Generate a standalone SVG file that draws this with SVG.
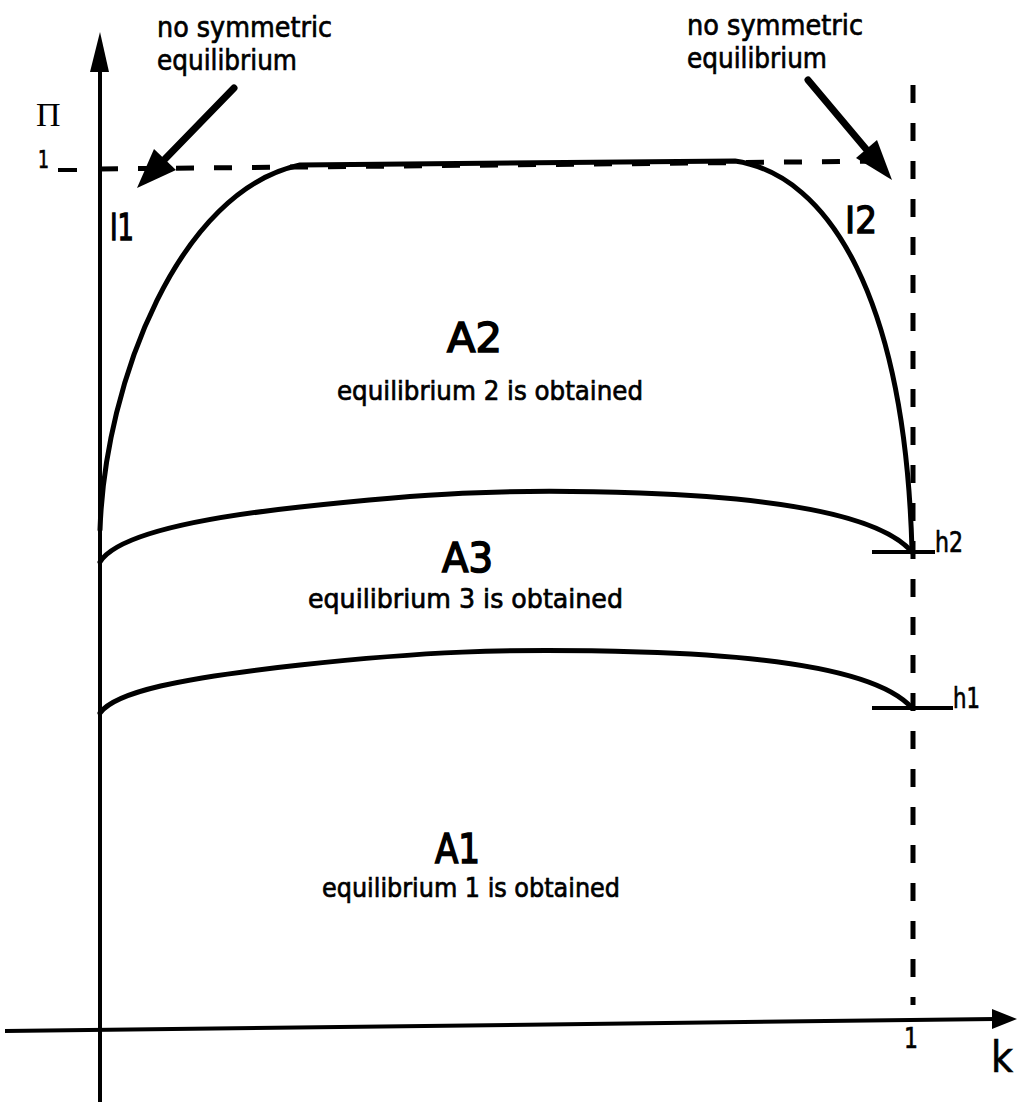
<svg xmlns="http://www.w3.org/2000/svg" width="1019" height="1107" viewBox="0 0 1019 1107">
<style>
.t{font-family:"DejaVu Sans","Liberation Sans",sans-serif;fill:#000;stroke:#000;stroke-width:0.7}
.big{font-size:40px;stroke-width:1.6}
.eq{font-size:26px}
.note{font-size:28px}
.crv{fill:none;stroke:#000;stroke-width:5;stroke-linecap:round}
.ax{fill:none;stroke:#000;stroke-width:4}
.dash{fill:none;stroke:#000;stroke-width:5;stroke-dasharray:18 20}
.call{fill:none;stroke:#000;stroke-width:7;stroke-linecap:round}
</style>
<rect width="1019" height="1107" fill="#fff"/>
<g id="axes">
<line class="ax" x1="100" y1="1102" x2="100" y2="60"/>
<polygon points="100,32 90,72 109,72" fill="#000"/>
<line class="ax" x1="5" y1="1031" x2="995" y2="1019"/>
<polygon points="1017,1019 992,1009 992,1029" fill="#000"/>
<line class="ax" x1="58" y1="170" x2="77" y2="170"/>
<text x="36" y="126" style="font-family:'Liberation Serif',serif;font-size:34px;fill:#000">Π</text>
<text class="t" x="38" y="168" style="font-size:24px" textLength="11" lengthAdjust="spacingAndGlyphs">1</text>
<text class="t" x="904" y="1048" style="font-size:28px" textLength="14" lengthAdjust="spacingAndGlyphs">1</text>
<text class="t" x="991" y="1072" style="font-size:42px" textLength="22" lengthAdjust="spacingAndGlyphs">k</text>
</g>
<g id="connectors">
<line class="dash" x1="100" y1="169" x2="893" y2="161"/>
<line class="dash" x1="913" y1="85" x2="913" y2="1005"/>
<path class="crv" d="M100,530 C105,380 180,190 300,165 L735,161 C830,175 905,300 912,550"/>
<path class="crv" d="M100,562 C115,538 180,520 300,507 S500,488 640,493 S880,515 912,552"/>
<path class="crv" d="M100,713 C115,692 180,678 300,665 S500,648 640,652 S880,672 912,708"/>
<line class="ax" x1="872" y1="552" x2="935" y2="552"/>
<line class="ax" x1="872" y1="708" x2="953" y2="708"/>
<line class="call" x1="234" y1="88" x2="165" y2="159"/>
<polygon points="137,188 176,170 154,149" fill="#000"/>
<line class="call" x1="808" y1="80" x2="866" y2="149"/>
<polygon points="892,180 877,140 856,158" fill="#000"/>
</g>
<g id="note-left">
<text class="t note" x="157" y="37" textLength="175" lengthAdjust="spacingAndGlyphs">no symmetric</text>
<text class="t note" x="157" y="70" textLength="140" lengthAdjust="spacingAndGlyphs">equilibrium</text>
</g>
<g id="note-right">
<text class="t note" x="687" y="35" textLength="176" lengthAdjust="spacingAndGlyphs">no symmetric</text>
<text class="t note" x="687" y="68" textLength="140" lengthAdjust="spacingAndGlyphs">equilibrium</text>
</g>
<g id="I1"><text class="t" x="110" y="240" style="font-size:38px;stroke-width:1.4" textLength="24" lengthAdjust="spacingAndGlyphs">I1</text></g>
<g id="I2"><text class="t" x="845" y="233" style="font-size:38px;stroke-width:1.4" textLength="32" lengthAdjust="spacingAndGlyphs">I2</text></g>
<g id="A2">
<text class="t big" x="447" y="352" textLength="55" lengthAdjust="spacingAndGlyphs">A2</text>
<text class="t eq" x="337" y="400" textLength="306" lengthAdjust="spacingAndGlyphs">equilibrium 2 is obtained</text>
</g>
<g id="A3">
<text class="t big" x="442" y="572" textLength="51" lengthAdjust="spacingAndGlyphs">A3</text>
<text class="t eq" x="308" y="608" textLength="315" lengthAdjust="spacingAndGlyphs">equilibrium 3 is obtained</text>
</g>
<g id="A1">
<text class="t big" x="435" y="863" textLength="45" lengthAdjust="spacingAndGlyphs">A1</text>
<text class="t eq" x="322" y="897" textLength="298" lengthAdjust="spacingAndGlyphs">equilibrium 1 is obtained</text>
</g>
<g id="h2"><text class="t" x="935" y="552" style="font-size:28px" textLength="28" lengthAdjust="spacingAndGlyphs">h2</text></g>
<g id="h1"><text class="t" x="953" y="708" style="font-size:28px" textLength="27" lengthAdjust="spacingAndGlyphs">h1</text></g>
</svg>
